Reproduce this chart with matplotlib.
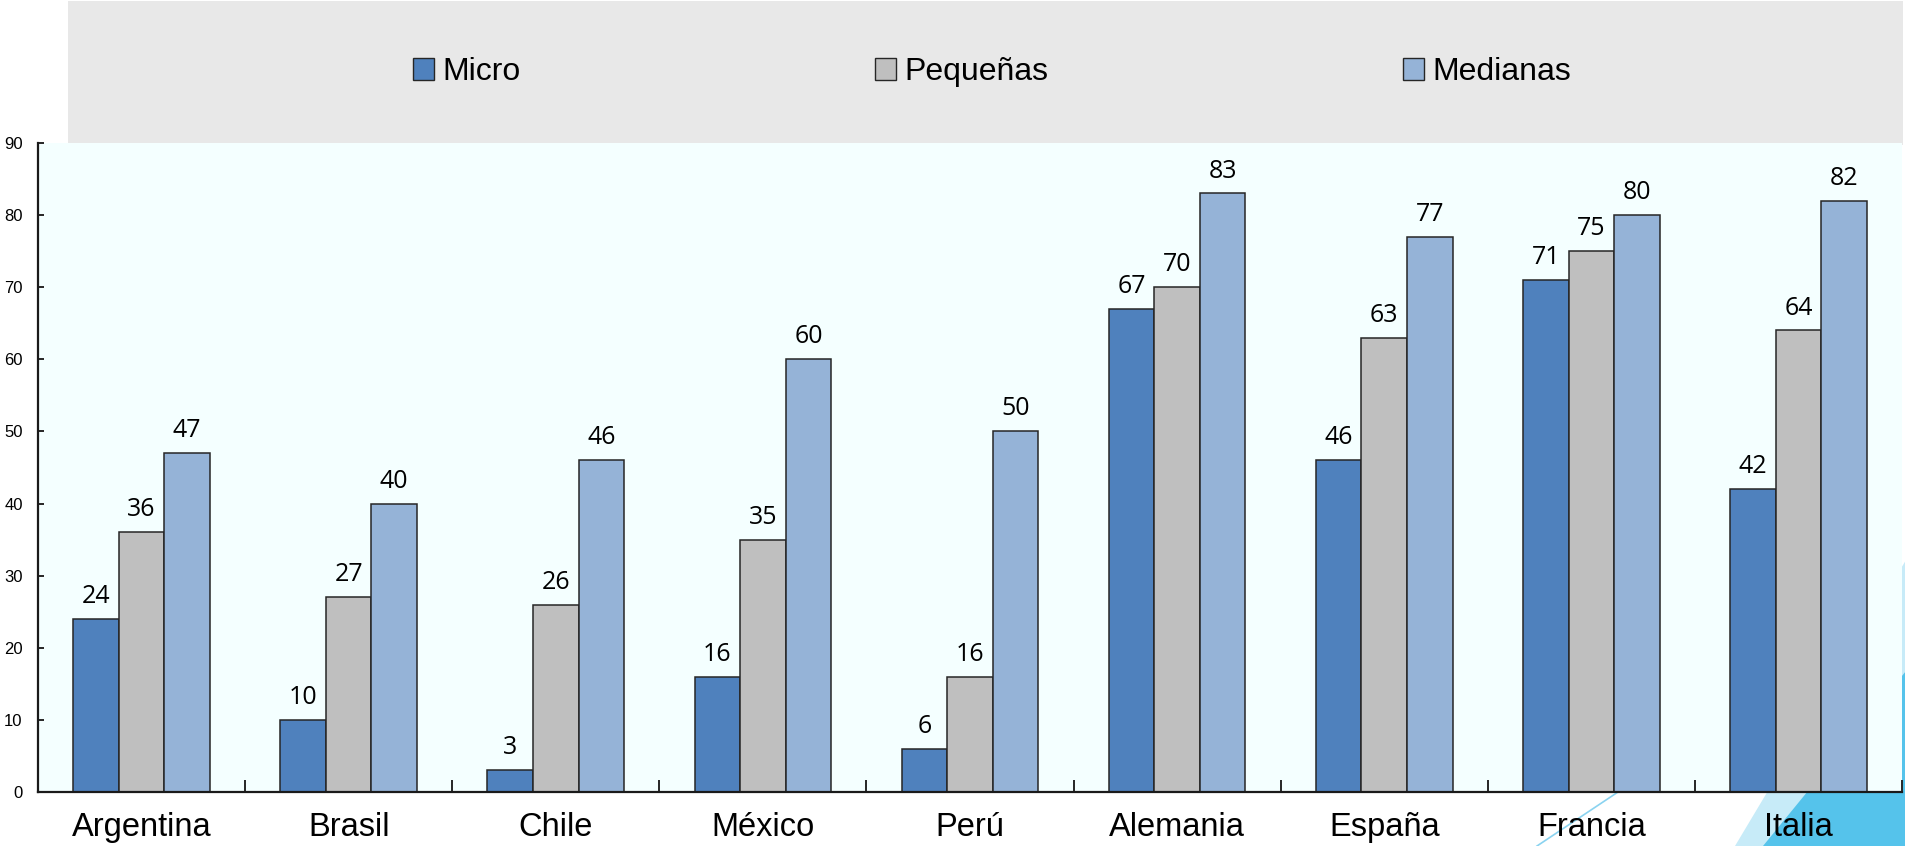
import numpy as np
import matplotlib
matplotlib.use('Agg')
import matplotlib.pyplot as plt
from matplotlib.patches import Rectangle, Polygon, Patch
from matplotlib.lines import Line2D

# data
paises = ['Argentina', 'Brasil', 'Chile', 'México', 'Perú',
          'Alemania', 'España', 'Francia', 'Italia']
micro = [24, 10, 3, 16, 6, 67, 46, 71, 42]
pequenas = [36, 27, 26, 35, 16, 70, 63, 75, 64]
medianas = [47, 40, 46, 60, 50, 83, 77, 80, 82]
series = ['Micro', 'Pequeñas', 'Medianas']
colores = ['#4F81BD', '#BFBFBF', '#95B3D7']

narrow = ['Liberation Sans Narrow', 'Liberation Sans', 'DejaVu Sans']

W, H = 1906, 846
fig = plt.figure(figsize=(W / 100, H / 100), dpi=100)
fig.patch.set_facecolor('white')

# slide decorations (figure pixel coords -> fractions)
def fx(px):
    return px / W

def fy(py):
    return 1 - py / H

fig.patches.append(Polygon([(fx(1735), fy(846)), (fx(1906), fy(846)), (fx(1906), fy(560))],
                           closed=True, transform=fig.transFigure, facecolor='#C7EBF8',
                           edgecolor='none', zorder=-2))
fig.patches.append(Polygon([(fx(1763), fy(846)), (fx(1906), fy(846)), (fx(1906), fy(671))],
                           closed=True, transform=fig.transFigure, facecolor='#55C3EB',
                           edgecolor='none', zorder=-1))
fig.lines.append(Line2D([fx(1537), fx(1618)], [fy(846), fy(792)], transform=fig.transFigure,
                        color='#8AD3F0', lw=1.2, zorder=-1))
# legend band
fig.patches.append(Rectangle((fx(68), fy(145)), fx(1903) - fx(68), 1 - fy(145) - 0.001,
                             transform=fig.transFigure, facecolor='#E8E8E8',
                             edgecolor='none', zorder=-1))

ax = fig.add_axes([fx(38), fy(792), fx(1902) - fx(38), fy(143) - fy(792)])
ax.set_facecolor('#F4FFFF')

x = np.arange(len(paises))
w = 0.22
for k, (vals, col) in enumerate(zip([micro, pequenas, medianas], colores)):
    pos = x + (k - 1) * w
    ax.bar(pos, vals, w, color=col, edgecolor='#262626', linewidth=1.1, zorder=2)
    for xp, v in zip(pos, vals):
        ax.annotate(str(v), (xp, v), xytext=(0, 11.5), textcoords='offset points',
                    ha='center', va='baseline', fontsize=18,
                    family=['Open Sans', 'DejaVu Sans'], color='black')

ax.set_xlim(-0.5, len(paises) - 0.5)
ax.set_ylim(0, 90)
ax.set_yticks(np.arange(0, 91, 10))
ax.set_xticks(x)
ax.set_xticklabels(paises, fontsize=23.5, family=narrow)
ax.set_xticks(np.arange(-0.5, len(paises)), minor=True)

ax.tick_params(axis='x', which='major', length=0, pad=14.5)
ax.tick_params(axis='x', which='minor', direction='in', length=8.6, width=1.4, color='#262626')
ax.tick_params(axis='y', direction='in', length=4.5, width=1.4, pad=11, color='#262626',
               labelsize=12, labelfontfamily='Liberation Sans')

for s in ['top', 'right']:
    ax.spines[s].set_visible(False)
for s in ['left', 'bottom']:
    ax.spines[s].set_linewidth(1.6)
    ax.spines[s].set_color('#1a1a1a')

handles = [Patch(facecolor=c, edgecolor='#262626', linewidth=1.0, label=s)
           for s, c in zip(series, colores)]
fig.legend(handles=handles, loc='center', bbox_to_anchor=(fx(992), fy(72)), ncol=3,
           frameon=False, prop={'family': narrow, 'size': 23},
           handlelength=0.66, handleheight=0.66, handletextpad=0.25,
           columnspacing=11.1)

fig.savefig('out.png', dpi=100)
